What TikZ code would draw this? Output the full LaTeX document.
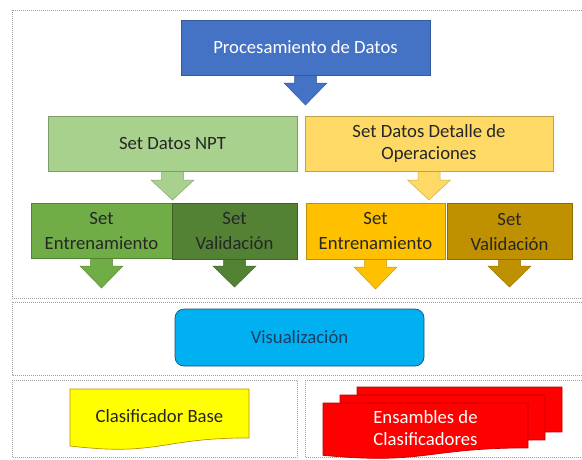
\documentclass[tikz,border=0pt]{standalone}
\usepackage{fontspec}
\setmainfont{Carlito}
\definecolor{cproc}{HTML}{4472C4}
\definecolor{cnpt}{HTML}{A9D18E}
\definecolor{cgtr}{HTML}{70AD47}
\definecolor{cgval}{HTML}{548235}
\definecolor{cdet}{HTML}{FFD966}
\definecolor{cotr}{HTML}{FFC000}
\definecolor{coval}{HTML}{BF9000}
\definecolor{cvis}{HTML}{00B0F0}
\definecolor{cvisb}{HTML}{1F4E79}
\definecolor{ctxt}{HTML}{262626}
\definecolor{cred}{HTML}{FF0000}
\definecolor{credb}{HTML}{C00000}
\definecolor{cyel}{HTML}{FFFF00}
\definecolor{cyelb}{HTML}{BF9000}
\newcommand{\blockarrowdown}[5]{%
  % #1 color, #2 cx, #3 top, #4 headtop, #5 tip
  \fill[#1, draw=#1!80!black, line width=0.5pt]
    ({#2-11},#3) -- ({#2+11},#3) -- ({#2+11},#4) -- ({#2+21.5},#4) --
    (#2,#5) -- ({#2-21.5},#4) -- ({#2-11},#4) -- cycle;}
\newcommand{\docshape}[6]{%
  % #1 fill, #2 draw, #3 x1, #4 x2, #5 top, #6 height
  \path[fill=#1, draw=#2, line width=0.7pt]
    (#3,#5) -- (#4,#5) -- (#4,{#5+0.802*#6})
    .. controls ({(#3+#4)/2},{#5+0.802*#6}) and ({(#3+#4)/2},{#5+1.108*#6}) ..
    (#3,{#5+0.934*#6}) -- cycle;}
\begin{document}
\begin{tikzpicture}[x=1pt,y=-1pt,
  frame/.style={draw=gray!75, line width=0.6pt, dash pattern=on 1pt off 1pt},
  box/.style={rectangle, inner sep=2pt, align=center, text=ctxt,
    font=\fontsize{18.7}{25}\selectfont, line width=0.7pt},
  lbl/.style={inner sep=0pt, align=center, font=\fontsize{18.7}{22}\selectfont}]
\useasboundingbox (0,0) rectangle (582,459);
\fill[white] (0,0) rectangle (582,459);

% frames
\draw[frame] (12,10) rectangle (590,298);
\draw[frame] (12,302) rectangle (590,375);
\draw[frame] (12,380) rectangle (297,457.5);
\draw[frame] (305,380) rectangle (590,457.5);

% arrows (drawn behind boxes)
\blockarrowdown{cproc}{305.5}{74}{83}{105}
\blockarrowdown{cnpt}{172.5}{170}{180}{200}
\blockarrowdown{cdet}{429}{170}{180}{200}
\blockarrowdown{cgtr}{101.5}{257}{266}{288}
\blockarrowdown{cgval}{234.5}{258}{266}{287}
\blockarrowdown{cotr}{375.5}{258}{267}{289}
\blockarrowdown{coval}{509.5}{259}{266}{287}

% boxes
\node[box, fill=cproc, draw=cproc!80!black, text=white,
  minimum width=249pt, minimum height=55pt] (proc) at (305.5,47.5) {Procesamiento de Datos};
\node[box, fill=cnpt, draw=cnpt!75!black,
  minimum width=249pt, minimum height=55pt] (npt) at (172.5,143.5) {Set Datos NPT};
\node[box, fill=cdet, draw=cdet!75!black, font=\fontsize{18.7}{22}\selectfont,
  minimum width=248pt, minimum height=55pt] (det) at (429,143.5) {Set Datos Detalle de\\Operaciones};
\node[box, fill=cgtr, draw=cgtr!75!black,
  minimum width=141pt, minimum height=55pt] (gtr) at (101.5,230.5) {Set\\Entrenamiento};
\node[box, fill=cgval, draw=cgval!75!black,
  minimum width=125pt, minimum height=56pt] (gval) at (234.5,231) {Set\\Validación};
\node[box, fill=cotr, draw=cotr!75!black,
  minimum width=139pt, minimum height=56pt] (otr) at (375.5,231) {Set\\Entrenamiento};
\node[box, fill=coval, draw=coval!75!black,
  minimum width=125pt, minimum height=56pt] (oval) at (509.5,231.5) {Set\\Validación};

\node[box, fill=cvis, draw=cvisb, rounded corners=9pt, text=cvisb!80!black,
  minimum width=249pt, minimum height=57pt] (vis) at (299.5,337.5) {Visualización};

% Clasificador Base (document shape)
\docshape{cyel}{cyelb}{70}{249}{389}{61}
\node[lbl, text=ctxt] (base) at (159.5,416) {Clasificador Base};

% Ensambles de Clasificadores (multidocument)
\docshape{cred}{credb}{357}{562}{387}{56}
\docshape{cred}{credb}{340}{545}{395}{56}
\docshape{cred}{credb}{323}{528}{403}{56}
\node[lbl, text=white] (ens) at (425.5,428) {Ensambles de\\Clasificadores};
\end{tikzpicture}
\end{document}
